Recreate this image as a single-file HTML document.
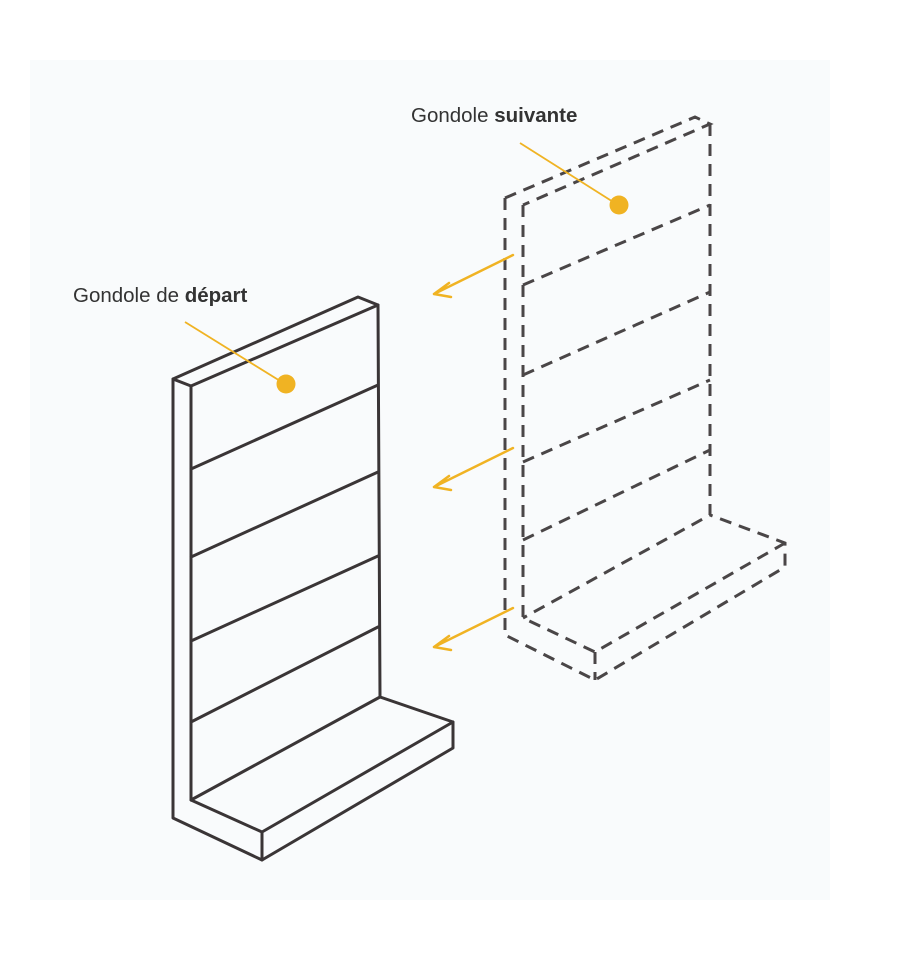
<!DOCTYPE html>
<html><head><meta charset="utf-8"><style>
html,body{margin:0;padding:0;background:#fff;}
svg{display:block;}
text{font-family:"Liberation Sans",sans-serif;font-size:20.5px;fill:#333;}
</style></head><body>
<svg width="900" height="962" viewBox="0 0 900 962" xmlns="http://www.w3.org/2000/svg">
<rect x="30" y="60" width="800" height="840" fill="#f9fbfc"/>
<g fill="none" stroke="#3a3536" stroke-width="3" stroke-linejoin="round" stroke-linecap="round">
<path d="M173,379 L358,297 L378,305 L191,386 Z"/>
<path d="M173,379 L173,818 L262,860 L453,748 L453,722 L380,697"/>
<path d="M191,386 L191,800 L262,832 L453,722"/>
<path d="M378,305 L380,697 L191,800"/>
<path d="M262,832 L262,860"/>
<path d="M191,469 L378,385 M191,557 L378,472 M191,641 L378,556 M191,722 L378,627"/>
</g>
<g fill="none" stroke="#4a4647" stroke-width="3" stroke-dasharray="12,8">
<path d="M505,198 L695,117 L710,124 L523,205"/>
<path d="M505,198 L505,635 L595,680 L785,567 L785,543 L710,515"/>
<path d="M523,205 L523,618 L595,652 L785,543"/>
<path d="M710,124 L710,515 L523,618"/>
<path d="M595,652 L595,680"/>
<path d="M523,285 L710,205 M523,375 L710,292 M523,462 L710,380 M523,540 L710,450"/>
</g>
<g fill="none" stroke="#f0b323" stroke-width="2.5" stroke-linecap="round">
<path d="M513,255 L434,294 M434,294 L449,283 M434,294 L451,297"/>
<path d="M513,448 L434,487 M434,487 L449,476 M434,487 L451,490"/>
<path d="M513,608 L434,647 M434,647 L449,636 M434,647 L451,650"/>
</g>
<g stroke="#f0b323" stroke-width="1.8">
<line x1="185" y1="322" x2="285" y2="384"/>
<line x1="520" y1="143" x2="618" y2="205"/>
</g>
<circle cx="286" cy="384" r="9.5" fill="#f0b323"/>
<circle cx="619" cy="205" r="9.5" fill="#f0b323"/>
<text x="73" y="302">Gondole de <tspan font-weight="bold">départ</tspan></text>
<text x="411" y="122">Gondole <tspan font-weight="bold">suivante</tspan></text>
</svg>
</body></html>
